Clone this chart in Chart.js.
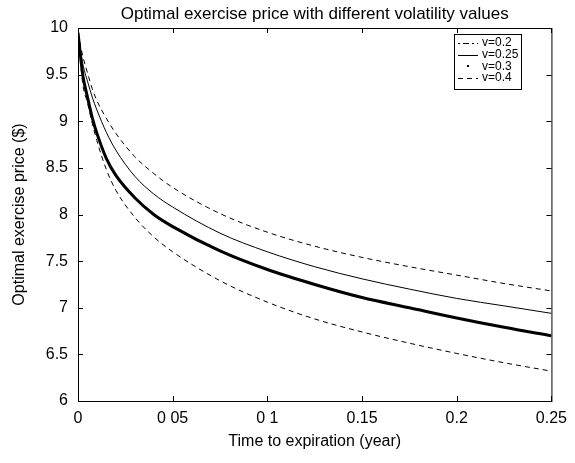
<!DOCTYPE html>
<html>
<head>
<meta charset="utf-8">
<script src="https://cdn.jsdelivr.net/npm/chart.js@4/dist/chart.umd.min.js"></script>
<style>
  html, body { margin: 0; padding: 0; background: #fff; }
  #wrap { width: 575px; height: 463px; }
</style>
</head>
<body>
<div id="wrap"><canvas id="chart"></canvas></div>
<script>
// time to expiration (year)
const times = [0, 0.0025, 0.005, 0.0075, 0.01, 0.015, 0.02, 0.03, 0.04, 0.05,
  0.075, 0.1, 0.125, 0.15, 0.175, 0.2, 0.225, 0.25];

// optimal exercise price for each volatility
const priceV020 = [9.95, 9.70, 9.52, 9.35, 9.22, 9.03, 8.87, 8.62, 8.44, 8.29,
  8.01, 7.81, 7.66, 7.54, 7.44, 7.35, 7.26, 7.18];
const priceV025 = [9.95, 9.62, 9.43, 9.26, 9.12, 8.88, 8.69, 8.41, 8.22, 8.08,
  7.80, 7.60, 7.44, 7.31, 7.20, 7.10, 7.02, 6.94];
const priceV030 = [9.95, 9.50, 9.26, 9.04, 8.87, 8.60, 8.42, 8.18, 8.00, 7.87,
  7.61, 7.41, 7.25, 7.11, 7.00, 6.89, 6.79, 6.70];
const priceV040 = [9.95, 9.40, 9.20, 8.98, 8.79, 8.48, 8.26, 7.97, 7.76, 7.60,
  7.29, 7.06, 6.88, 6.74, 6.62, 6.51, 6.41, 6.32];

const seriesLabels = ["v=0.2", "v=0.25", "v=0.3", "v=0.4"];
const xTickLabels = ["0", "0 05", "0 1", "0.15", "0.2", "0.25"];
const yTickLabels = ["6", "6.5", "7", "7.5", "8", "8.5", "9", "9.5", "10"];
const chartTitle = "Optimal exercise price with different volatility values";

const FONT = "'Liberation Sans', Arial, sans-serif";

function toPoints(values) {
  return values.map((v, i) => ({ x: times[i], y: v }));
}

// title over the plot, frame with inward ticks, boxed legend inside the plot
const framePlugin = {
  id: "frame",
  afterDraw(chart) {
    const { ctx, chartArea: a, scales } = chart;
    const tl = 5;
    ctx.save();

    ctx.fillStyle = "#000";
    ctx.font = "17px " + FONT;
    ctx.textAlign = "center";
    ctx.textBaseline = "middle";
    ctx.fillText(chartTitle, (a.left + a.right) / 2, 14);

    ctx.strokeStyle = "#000";
    ctx.lineWidth = 1;
    ctx.strokeRect(a.left + 0.5, a.top + 0.5, a.right - a.left, a.bottom - a.top);

    ctx.beginPath();
    scales.x.ticks.forEach((t) => {
      const px = Math.round(scales.x.getPixelForValue(t.value)) + 0.5;
      ctx.moveTo(px, a.bottom);
      ctx.lineTo(px, a.bottom - tl);
      ctx.moveTo(px, a.top);
      ctx.lineTo(px, a.top + tl);
    });
    scales.y.ticks.forEach((t) => {
      const py = Math.round(scales.y.getPixelForValue(t.value)) + 0.5;
      ctx.moveTo(a.left, py);
      ctx.lineTo(a.left + tl, py);
      ctx.moveTo(a.right, py);
      ctx.lineTo(a.right - tl, py);
    });
    ctx.stroke();

    // legend box
    const bx = 454, by = 34, bw = 67, bh = 55;
    ctx.fillStyle = "#fff";
    ctx.fillRect(bx, by, bw, bh);
    ctx.strokeRect(bx + 0.5, by + 0.5, bw, bh);
    ctx.font = "12px " + FONT;
    ctx.textAlign = "left";
    chart.data.datasets.forEach((ds, i) => {
      const y = by + 9 + i * 11.6;
      ctx.strokeStyle = "#000";
      ctx.fillStyle = "#000";
      if (i === 2) {
        ctx.fillRect(467, Math.round(y) - 1, 2, 2);
      } else {
        ctx.beginPath();
        ctx.lineWidth = 1;
        if (i === 0) ctx.setLineDash([2, 3, 6, 3]);
        else if (i === 3) ctx.setLineDash([5, 4]);
        else ctx.setLineDash([]);
        ctx.moveTo(458, Math.round(y) + 0.5);
        ctx.lineTo(478, Math.round(y) + 0.5);
        ctx.stroke();
        ctx.setLineDash([]);
      }
      ctx.fillText(ds.label, 482, y);
    });
    ctx.restore();
  },
};

const ctx = document.getElementById("chart").getContext("2d");
new Chart(ctx, {
  type: "line",
  data: {
    datasets: [
      {
        label: seriesLabels[0],
        data: toPoints(priceV020),
        borderColor: "#000",
        borderWidth: 1,
        borderDash: [5, 4],
      },
      {
        label: seriesLabels[1],
        data: toPoints(priceV025),
        borderColor: "#000",
        borderWidth: 1,
      },
      {
        label: seriesLabels[2],
        data: toPoints(priceV030),
        borderColor: "#000",
        borderWidth: 3,
      },
      {
        label: seriesLabels[3],
        data: toPoints(priceV040),
        borderColor: "#000",
        borderWidth: 1,
        borderDash: [5, 4],
      },
    ],
  },
  options: {
    responsive: true,
    maintainAspectRatio: false,
    animation: false,
    layout: { padding: { left: 0, right: 22, top: 28, bottom: 0 } },
    elements: {
      point: { radius: 0 },
      line: { cubicInterpolationMode: "monotone", fill: false },
    },
    plugins: {
      legend: { display: false },
      tooltip: { enabled: false },
      title: { display: false },
    },
    scales: {
      x: {
        type: "linear",
        min: 0,
        max: 0.25,
        afterFit(scale) { scale.height = 62; },
        afterBuildTicks(scale) {
          scale.ticks = xTickLabels.map((_, i) => ({ value: i * 0.05 }));
        },
        grid: { display: false, drawTicks: false },
        border: { display: false },
        ticks: {
          color: "#000",
          padding: 8,
          maxRotation: 0,
          font: { family: FONT, size: 16 },
          callback: (v, i) => xTickLabels[i],
        },
        title: {
          display: true,
          text: "Time to expiration (year)",
          color: "#000",
          font: { family: FONT, size: 16 },
          padding: { top: 0, bottom: 12 },
        },
      },
      y: {
        min: 6,
        max: 10,
        afterFit(scale) { scale.width = 78; },
        afterBuildTicks(scale) {
          scale.ticks = yTickLabels.map((l) => ({ value: parseFloat(l) }));
        },
        grid: { display: false, drawTicks: false },
        border: { display: false },
        ticks: {
          color: "#000",
          padding: 10,
          font: { family: FONT, size: 16 },
          callback: (v, i) => yTickLabels[i],
        },
        title: {
          display: true,
          text: "Optimal exercise price ($)",
          color: "#000",
          font: { family: FONT, size: 16 },
          padding: { top: 10, bottom: 0 },
        },
      },
    },
  },
  plugins: [framePlugin],
});
</script>
</body>
</html>
